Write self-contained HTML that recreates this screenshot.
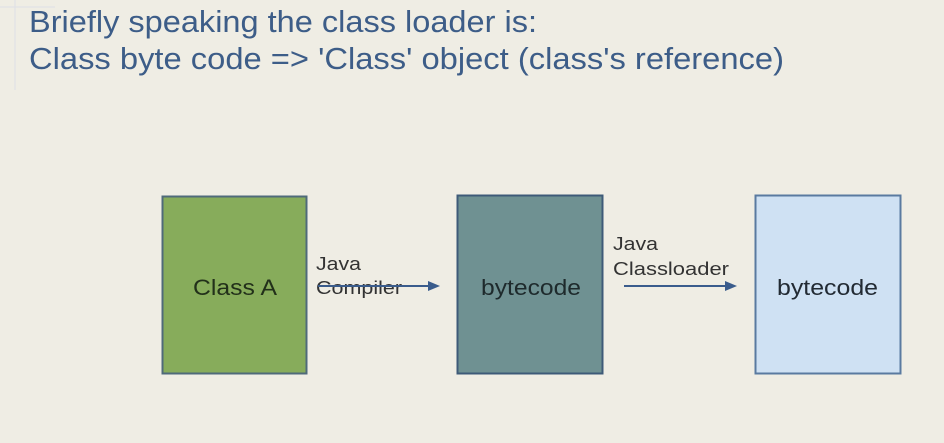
<!DOCTYPE html>
<html><head><meta charset="utf-8"><style>
html,body{margin:0;padding:0;background:#efede4;}
svg{display:block;font-family:"Liberation Sans",Arial,sans-serif;}
</style></head><body>
<svg width="944" height="443" viewBox="0 0 944 443" xmlns="http://www.w3.org/2000/svg">
<rect width="944" height="443" fill="#efede4"/>
<line x1="15" y1="0" x2="15" y2="90" stroke="#dde0e6" stroke-width="1"/>
<line x1="0" y1="7" x2="55" y2="7" stroke="#dde0e6" stroke-width="1"/>
<text x="29" y="32" font-size="31" fill="#3d5d88" textLength="508" lengthAdjust="spacingAndGlyphs">Briefly speaking the class loader is:</text>
<text x="29" y="69" font-size="31" fill="#3d5d88" textLength="755" lengthAdjust="spacingAndGlyphs">Class byte code =&gt; 'Class' object (class's reference)</text>

<rect x="162.5" y="196.5" width="144" height="177" fill="#87ac5b" stroke="#4f6a7a" stroke-width="2"/>
<text x="193" y="295" font-size="22" fill="#22301a" textLength="84" lengthAdjust="spacingAndGlyphs">Class A</text>

<rect x="457.5" y="195.5" width="145" height="178" fill="#6f9192" stroke="#3e5a78" stroke-width="2"/>
<text x="481" y="295" font-size="22" fill="#1e2a2c" textLength="100" lengthAdjust="spacingAndGlyphs">bytecode</text>

<rect x="755.5" y="195.5" width="145" height="178" fill="#cfe1f3" stroke="#5a7aa0" stroke-width="2"/>
<text x="777" y="295" font-size="22" fill="#222a33" textLength="101" lengthAdjust="spacingAndGlyphs">bytecode</text>

<text x="316" y="270" font-size="18" fill="#333" textLength="45" lengthAdjust="spacingAndGlyphs">Java</text>
<text x="316" y="294" font-size="18" fill="#333" textLength="86" lengthAdjust="spacingAndGlyphs">Compiler</text>
<line x1="318" y1="286" x2="428" y2="286" stroke="#3a5c8c" stroke-width="2"/>
<polygon points="428,281 440,286 428,291" fill="#3a5c8c"/>

<text x="613" y="250" font-size="18" fill="#333" textLength="45" lengthAdjust="spacingAndGlyphs">Java</text>
<text x="613" y="275" font-size="18" fill="#333" textLength="116" lengthAdjust="spacingAndGlyphs">Classloader</text>
<line x1="624" y1="286" x2="725" y2="286" stroke="#3a5c8c" stroke-width="2"/>
<polygon points="725,281 737,286 725,291" fill="#3a5c8c"/>
</svg>
</body></html>
